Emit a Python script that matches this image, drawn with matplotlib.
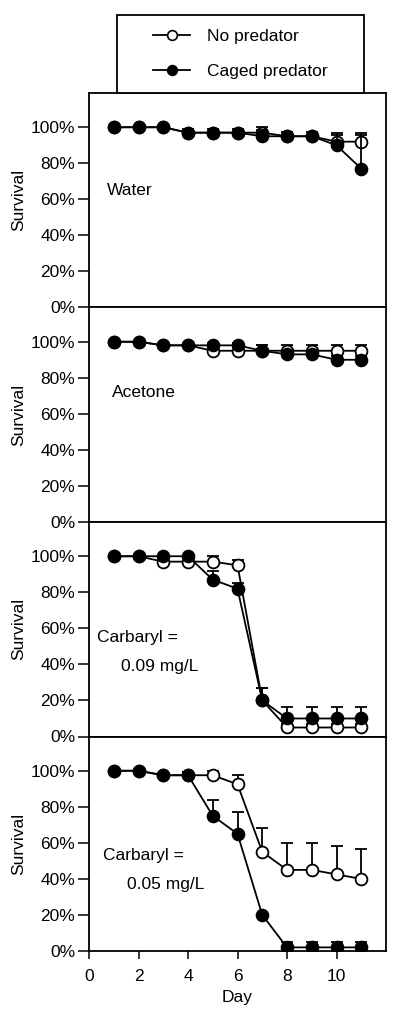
import matplotlib
matplotlib.use("Agg")
import matplotlib.pyplot as plt
from matplotlib.patches import Rectangle
from matplotlib.lines import Line2D
import numpy as np

plt.rcParams["font.family"] = ["Liberation Sans", "DejaVu Sans"]

days = np.arange(1, 12)

panel_labels = ["Water", "Acetone", "Carbaryl =\n0.09 mg/L", "Carbaryl =\n0.05 mg/L"]

no_pred = [
    [1.00, 1.00, 1.00, 0.97, 0.97, 0.97, 0.97, 0.95, 0.95, 0.92, 0.92],
    [1.00, 1.00, 0.98, 0.98, 0.95, 0.95, 0.95, 0.95, 0.95, 0.95, 0.95],
    [1.00, 1.00, 0.97, 0.97, 0.97, 0.95, 0.20, 0.05, 0.05, 0.05, 0.05],
    [1.00, 1.00, 0.975, 0.975, 0.975, 0.925, 0.55, 0.45, 0.45, 0.425, 0.40],
]
no_pred_err = [
    [0, 0, 0, 0, 0, 0, 0.03, 0, 0, 0.05, 0.05],
    [0, 0, 0, 0, 0.03, 0.03, 0.03, 0.03, 0.03, 0.03, 0.03],
    [0, 0, 0, 0, 0.03, 0.03, 0.07, 0.02, 0.02, 0.02, 0.02],
    [0, 0, 0, 0.02, 0.025, 0.05, 0.13, 0.15, 0.15, 0.155, 0.165],
]
caged = [
    [1.00, 1.00, 1.00, 0.97, 0.97, 0.97, 0.95, 0.95, 0.95, 0.90, 0.77],
    [1.00, 1.00, 0.98, 0.98, 0.98, 0.98, 0.95, 0.93, 0.93, 0.90, 0.90],
    [1.00, 1.00, 1.00, 1.00, 0.87, 0.82, 0.20, 0.10, 0.10, 0.10, 0.10],
    [1.00, 1.00, 0.975, 0.975, 0.75, 0.65, 0.20, 0.02, 0.02, 0.02, 0.02],
]
caged_err = [
    [0, 0, 0, 0.02, 0.02, 0.02, 0.035, 0.025, 0.025, 0.055, 0.185],
    [0, 0, 0, 0, 0.015, 0.015, 0.03, 0.02, 0.02, 0.02, 0.02],
    [0, 0, 0, 0, 0.05, 0.03, 0.07, 0.065, 0.065, 0.065, 0.065],
    [0, 0, 0.01, 0.02, 0.085, 0.12, 0, 0.03, 0.03, 0.03, 0.03],
]
label_pos = [(0.72, 0.65), (0.93, 0.72), (0.31, 0.47), (0.55, 0.45)]

yticks = [0, 0.2, 0.4, 0.6, 0.8, 1.0]
yticklabels = ["0%", "20%", "40%", "60%", "80%", "100%"]
xticks = [0, 2, 4, 6, 8, 10]

W, H = 400, 1018
fig = plt.figure(figsize=(W / 100, H / 100), dpi=100)

left = 89 / W
width = (386 - 89) / W
top = 93
ph = 214.5

lw = 1.3
ms = 8.5
for i in range(4):
    bottom = 1 - (top + (i + 1) * ph) / H
    ax = fig.add_axes([left, bottom, width, ph / H])
    zero = np.zeros(len(days))
    ax.errorbar(days, no_pred[i], yerr=[zero, no_pred_err[i]], color="black",
                lw=lw, elinewidth=lw, capsize=4.5, capthick=lw,
                marker="o", ms=ms, mfc="white", mec="black", mew=1.3, zorder=2)
    ax.errorbar(days, caged[i], yerr=[zero, caged_err[i]], color="black",
                lw=lw, elinewidth=lw, capsize=4.5, capthick=lw,
                marker="o", ms=ms, mfc="black", mec="black", mew=1.3, zorder=3)

    lines = panel_labels[i].split("\n")
    x0, y0 = label_pos[i]
    if len(lines) == 1:
        ax.text(x0, y0, lines[0], fontsize=12.5, ha="left", va="center")
    else:
        ax.text(x0, y0 + 0.08, lines[0], fontsize=12.5, ha="left", va="center")
        ax.text(x0 + 1.0, y0 - 0.08, lines[1], fontsize=12.5, ha="left", va="center")

    ax.set_xlim(0, 12)
    ax.set_ylim(0, 1.19)
    ax.set_yticks(yticks)
    ax.set_yticklabels(yticklabels, fontsize=12.5)
    ax.tick_params(axis="y", direction="out", length=8, width=1.1, pad=2)
    ax.set_ylabel("Survival", fontsize=12.5, labelpad=3)
    for sp in ax.spines.values():
        sp.set_linewidth(1.3)
    if i < 3:
        ax.set_xticks([])
    else:
        ax.set_xticks(xticks)
        ax.set_xticklabels([str(t) for t in xticks], fontsize=12.5)
        ax.tick_params(axis="x", direction="out", length=6, width=1.1, pad=7)
        ax.set_xlabel("Day", fontsize=12.5, labelpad=4)

# legend box on top of the first panel
box = Rectangle((117 / W, 1 - 93 / H), (364 - 117) / W, (93 - 15) / H,
                transform=fig.transFigure, facecolor="white", edgecolor="black",
                lw=1.3, zorder=4)
fig.add_artist(box)
handles = [
    Line2D([], [], color="black", lw=lw, marker="o", ms=7, mfc="white", mec="black", mew=1.2),
    Line2D([], [], color="black", lw=lw, marker="o", ms=7, mfc="black", mec="black", mew=1.2),
]
leg = fig.legend(handles, ["No predator", "Caged predator"], loc="center",
                 bbox_to_anchor=((117 + 364) / 2 / W, 1 - 54 / H), frameon=False,
                 fontsize=12.5, handlelength=2.1, handletextpad=1.0, labelspacing=1.15,
                 borderpad=0.0)
leg.set_zorder(5)

fig.savefig("out.png", dpi=100)
